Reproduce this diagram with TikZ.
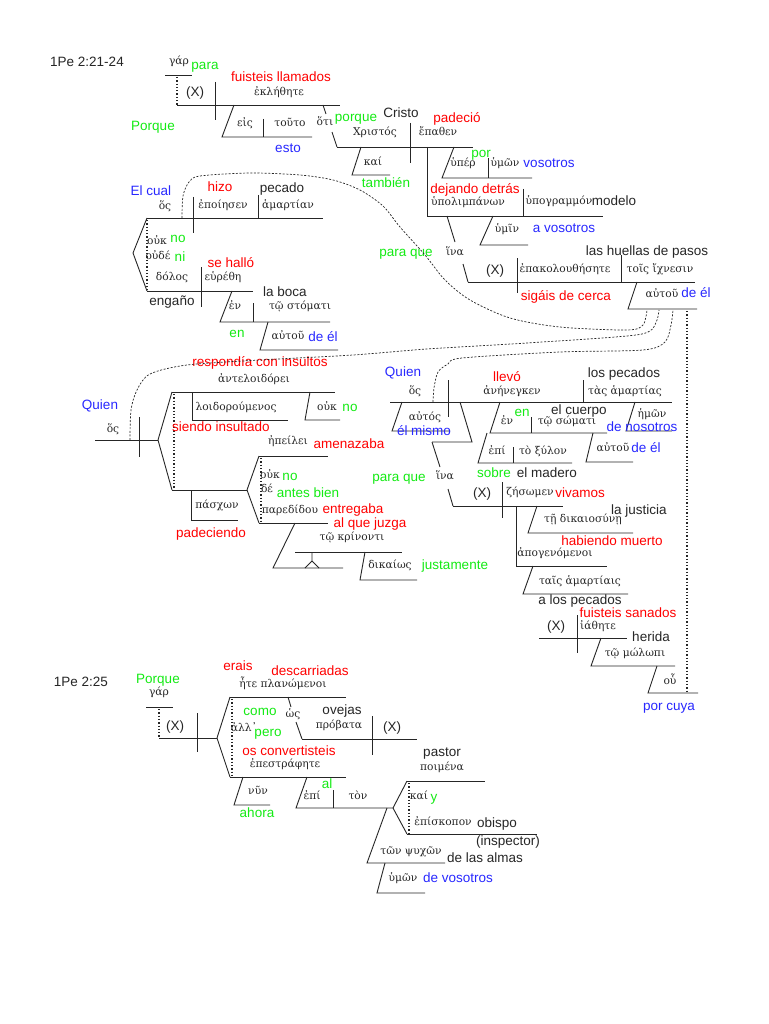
\documentclass[tikz,border=0pt]{standalone}
\usepackage{fontspec}
\setmainfont{Liberation Sans}
\newfontfamily\gkf{DejaVu Serif}
\definecolor{cr}{RGB}{255,0,0}
\definecolor{cg}{RGB}{20,235,20}
\definecolor{cb}{RGB}{40,40,255}
\newcounter{tnc}
\newcommand{\tx}[4]{\stepcounter{tnc}\node[#1] (t\arabic{tnc}) at (#2,#3) {#4};}
\begin{document}
\begin{tikzpicture}[x=1pt,y=-1pt,
  ln/.style={line width=0.9pt, black!85},
  dt/.style={line width=1.3pt, dotted, black!85},
  ds/.style={line width=0.7pt, dash pattern=on 2pt off 1.6pt, black!85},
  sp/.style={inner sep=0pt, anchor=center, font=\fontsize{13.5}{15}\selectfont, text height=9.7pt, text depth=0pt, text=black!85},
  rd/.style={sp, text=cr}, gn/.style={sp, text=cg}, bl/.style={sp, text=cb},
  gk/.style={inner sep=0pt, anchor=center, font=\gkf\fontsize{10.7}{12}\selectfont, text height=5.5pt, text depth=0pt, text=black!85}]
\useasboundingbox (0,0) rectangle (768,1024);
\fill[white] (0,0) rectangle (768,1024);

% ================= Section 1 =================
\tx{sp}{87}{62}{1Pe 2:21-24}
\tx{gk}{179}{62}{γάρ}
\tx{gn}{205}{65}{para}
\draw[ln] (165,75)--(192,75);
\draw[dt] (177,77)--(177,105);
\draw[ln] (177,105)--(340,105);
\draw[ln] (215,82)--(215,120);
\tx{sp}{195}{92}{(X)}
\tx{rd}{281}{77}{fuisteis llamados}
\tx{gk}{279}{93}{ἐκλήθητε}
\tx{gn}{153}{126}{Porque}
\draw[ln] (234,105)--(222,137)--(312,137);
\draw[ln] (263,119)--(263,137);
\tx{gk}{245}{124}{εἰς}
\tx{gk}{290}{124}{τοῦτο}
\tx{bl}{288}{148}{esto}
\draw[ln] (323,105)--(326,114);
\draw[ln] (332,132)--(337,147);
\tx{gk}{325}{123}{ὅτι}
\tx{gn}{356}{117}{porque}
\tx{sp}{401}{113}{Cristo}
\tx{gk}{375}{133}{Χριστός}
\draw[ln] (410,123)--(410,163);
\tx{rd}{457}{118}{padeció}
\tx{gk}{438}{133}{ἔπαθεν}
\draw[ln] (337,147)--(473,147);
\draw[ln] (361,147)--(352,175)--(390,175);
\tx{gk}{373}{163}{καί}
\tx{gn}{386}{183}{también}
\draw[ln] (454,147)--(442,178)--(532,178);
\draw[ln] (488,158)--(488,178);
\tx{gk}{463}{164}{ὑπέρ}
\tx{gk}{505}{164}{ὑμῶν}
\tx{bl}{549}{163}{vosotros}
\tx{gn}{481}{153}{por}
\draw[ln] (427,147)--(427,216)--(603,216);
\draw[ln] (523,189)--(523,216);
\tx{rd}{475}{189}{dejando detrás}
\tx{gk}{468}{203}{ὑπολιμπάνων}
\tx{gk}{559}{202}{ὑπογραμμόν}
\tx{sp}{614}{201}{modelo}
\draw[ln] (493,216)--(480,245)--(528,245);
\tx{gk}{507}{230}{ὑμῖν}
\tx{bl}{564}{228}{a vosotros}
\draw[ln] (447,216)--(455,242);
\draw[ln] (463,264)--(468,282);
\tx{gk}{455}{253}{ἵνα}
\tx{gn}{406}{252}{para que}
\draw[ln] (468,282)--(695,282);
\tx{sp}{495}{270}{(X)}
\draw[ln] (517,258)--(517,293);
\tx{gk}{565}{270}{ἐπακολουθήσητε}
\draw[ln] (621,255)--(621,282);
\tx{gk}{660}{270}{τοῖς ἴχνεσιν}
\tx{sp}{647}{251}{las huellas de pasos}
\tx{rd}{566}{296}{sigáis de cerca}
\draw[ln] (637,282)--(628,309)--(697,309);
\tx{gk}{662}{295}{αὐτοῦ}
\tx{bl}{696}{293}{de él}

% ----- El cual -----
\tx{bl}{151}{191}{El cual}
\tx{gk}{165}{207}{ὅς}
\draw[ln] (147,218)--(323,218);
\draw[ln] (193,197)--(193,233);
\draw[ln] (258,195)--(258,218);
\tx{rd}{220}{187}{hizo}
\tx{gk}{223}{206}{ἐποίησεν}
\tx{sp}{282}{188}{pecado}
\tx{gk}{288}{206}{ἁμαρτίαν}
\draw[ln] (147,218)--(133,253)--(147,291);
\draw[dt] (147,220)--(147,290);
\draw[ln] (147,291)--(253,291);
\tx{gk}{157}{242}{οὐκ}
\tx{gn}{178}{238}{no}
\tx{gk}{158}{257}{οὐδέ}
\tx{gn}{180}{257}{ni}
\tx{rd}{231}{263}{se halló}
\tx{gk}{172}{278}{δόλος}
\tx{gk}{223}{278}{εὑρέθη}
\draw[ln] (201,267)--(201,307);
\tx{sp}{172}{301}{engaño}
\draw[ln] (232,291)--(220,322)--(330,322);
\draw[ln] (253,303)--(253,322);
\tx{gk}{235}{307}{ἐν}
\tx{gk}{300}{307}{τῷ στόματι}
\tx{sp}{285}{292}{la boca}
\tx{gn}{237}{333}{en}
\draw[ln] (268,322)--(260,350)--(338,350);
\tx{gk}{288}{337}{αὐτοῦ}
\tx{bl}{323}{337}{de él}

% ================= Section 2 (Quien) =================
\tx{bl}{100}{405}{Quien}
\tx{gk}{113}{430}{ὅς}
\draw[ln] (95,440)--(158,440);
\draw[ln] (139,417)--(139,457);
\draw[ln] (158,440)--(172,392);
\draw[ln] (158,440)--(172,490);
\draw[dt] (174,394)--(174,489);
\draw[ln] (172,392)--(335,392);
\draw[ln] (172,490)--(247,490);
\tx{rd}{260}{362}{respondía con insultos}
\tx{gk}{254}{380}{ἀντελοιδόρει}
\draw[ln] (192,392)--(192,420)--(288,420);
\tx{gk}{236}{408}{λοιδορούμενος}
\tx{rd}{221}{427}{siendo insultado}
\draw[ln] (310,392)--(305,420)--(340,420);
\tx{gk}{327}{408}{οὐκ}
\tx{gn}{350}{407}{no}
\draw[ln] (191,490)--(191,520)--(238,520);
\tx{gk}{217}{506}{πάσχων}
\tx{rd}{211}{533}{padeciendo}
\draw[ln] (247,490)--(259,456);
\draw[ln] (247,490)--(259,523);
\draw[dt] (261,458)--(261,522);
\draw[ln] (259,456)--(328,456);
\draw[ln] (259,523)--(328,523);
\tx{gk}{288}{442}{ἠπείλει}
\tx{rd}{349}{444}{amenazaba}
\tx{gk}{270}{476}{οὐκ}
\tx{gn}{290}{476}{no}
\tx{gk}{267}{490}{δέ}
\tx{gn}{308}{493}{antes bien}
\tx{gk}{290}{511}{παρεδίδου}
\tx{rd}{353}{509}{entregaba}
\tx{rd}{370}{523}{al que juzga}
\tx{gk}{352}{538}{τῷ κρίνοντι}
\draw[ln] (295,523)--(273,568)--(343,568);
\draw[ln] (295,552)--(402,552);
\draw[ln] (312,552)--(312,561)--(305,568);
\draw[ln] (312,561)--(319,568);
\draw[ln] (365,552)--(360,580)--(417,580);
\tx{gk}{390}{566}{δικαίως}
\tx{gn}{455}{565}{justamente}

% ================= Section 3 (Quien) =================
\tx{bl}{403}{372}{Quien}
\tx{gk}{415}{392}{ὅς}
\draw[ln] (390,402)--(672,402);
\draw[ln] (448,380)--(448,417);
\draw[ln] (402,402)--(392,431)--(450,431);
\tx{gk}{425}{418}{αὐτός}
\tx{bl}{424}{431}{él mismo}
\draw[ln] (460,402)--(472,442)--(432,442);
\draw[ln] (432,442)--(440,467);
\draw[ln] (448,489)--(453,506);
\tx{gk}{445}{477}{ἵνα}
\tx{gn}{399}{477}{para que}
\tx{rd}{507}{377}{llevó}
\tx{gk}{512}{392}{ἀνήνεγκεν}
\draw[ln] (583,380)--(583,402);
\tx{sp}{624}{373}{los pecados}
\tx{gk}{625}{392}{τὰς ἁμαρτίας}
\draw[ln] (635,402)--(626,431)--(672,431);
\tx{gk}{652}{415}{ἡμῶν}
\tx{bl}{642}{427}{de nosotros}
\draw[ln] (500,402)--(490,433)--(607,433);
\draw[ln] (531,417)--(531,433);
\tx{gk}{507}{422}{ἐν}
\tx{gn}{522}{412}{en}
\tx{gk}{567}{422}{τῷ σώματι}
\tx{sp}{579}{410}{el cuerpo}
\draw[ln] (593,433)--(586,462)--(633,462);
\tx{gk}{613}{449}{αὐτοῦ}
\tx{bl}{646}{448}{de él}
\draw[ln] (487,433)--(478,463)--(572,463);
\draw[ln] (513,447)--(513,463);
\tx{gk}{497}{452}{ἐπί}
\tx{gk}{543}{452}{τὸ ξύλον}
\tx{gn}{494}{473}{sobre}
\tx{sp}{547}{473}{el madero}
\draw[ln] (453,506)--(563,506);
\tx{sp}{482}{493}{(X)}
\draw[ln] (502,482)--(502,518);
\tx{gk}{530}{493}{ζήσωμεν}
\tx{rd}{580}{493}{vivamos}
\draw[ln] (537,506)--(528,533)--(633,533);
\tx{gk}{583}{520}{τῇ δικαιοσύνῃ}
\tx{sp}{639}{510}{la justicia}
\draw[ln] (516,506)--(516,566)--(607,566);
\tx{gk}{555}{554}{ἀπογενόμενοι}
\tx{rd}{612}{541}{habiendo muerto}
\draw[ln] (533,566)--(523,594)--(628,594);
\tx{gk}{580}{582}{ταῖς ἁμαρτίαις}
\tx{sp}{580}{600}{a los pecados}
\tx{rd}{628}{613}{fuisteis sanados}
\tx{sp}{556}{626}{(X)}
\draw[ln] (577,615)--(577,653);
\tx{gk}{598}{627}{ἰάθητε}
\draw[ln] (539,638)--(627,638);
\tx{sp}{651}{637}{herida}
\draw[ln] (601,638)--(591,666)--(675,666);
\tx{gk}{635}{654}{τῷ μώλωπι}
\draw[ln] (657,666)--(648,693)--(698,693);
\tx{gk}{670}{682}{οὗ}
\tx{bl}{669}{706}{por cuya}
\draw[dt] (687,311)--(687,692);

% ----- dashed connectors to αὐτοῦ -----
\draw[ds] plot[smooth] coordinates {(182,218) (183,196) (189,182) (200,176) (250,173) (300,175) (333,180) (360,190) (383,206) (400,227) (425,255) (445,280) (470,300) (510,318) (560,327) (627,330) (643,325) (647,310)};
\draw[ds] plot[smooth] coordinates {(130,440) (131,410) (137,390) (150,374) (187,365) (260,360) (353,355) (427,349) (527,343) (627,336) (650,331) (657,320) (659,310)};
\draw[ds] plot[smooth] coordinates {(433,402) (434,388) (438,372) (448,364) (462,358) (560,352) (643,350) (665,342) (671,325) (673,310)};

% ================= Section 4 =================
\tx{sp}{81}{682}{1Pe 2:25}
\tx{gn}{158}{679}{Porque}
\tx{gk}{159}{693}{γάρ}
\draw[ln] (146,707)--(173,707);
\draw[dt] (159,709)--(159,738);
\draw[ln] (159,738)--(217,738);
\tx{sp}{175}{726}{(X)}
\draw[ln] (197,713)--(197,752);
\draw[ln] (217,738)--(230,697);
\draw[ln] (217,738)--(230,777);
\draw[dt] (232,699)--(232,776);
\draw[ln] (230,697)--(346,697);
\draw[ln] (230,777)--(346,777);
\tx{rd}{238}{666}{erais}
\tx{rd}{310}{671}{descarriadas}
\tx{gk}{283}{685}{ἦτε πλανώμενοι}
\draw[ln] (288,697)--(291,707);
\draw[ln] (296,722)--(302,739);
\tx{gk}{293}{715}{ὡς}
\draw[ln] (302,739)--(417,739);
\draw[ln] (372,716)--(372,755);
\tx{sp}{342}{710}{ovejas}
\tx{gk}{339}{726}{πρόβατα}
\tx{sp}{392}{727}{(X)}
\tx{gn}{260}{711}{como}
\tx{gk}{244}{729}{ἀλλ᾽}
\tx{gn}{268}{732}{pero}
\tx{rd}{289}{751}{os convertisteis}
\tx{gk}{285}{765}{ἐπεστράφητε}
\draw[ln] (243,777)--(234,805)--(270,805);
\tx{gk}{258}{792}{νῦν}
\tx{gn}{257}{813}{ahora}
\draw[ln] (307,777)--(296,808)--(393,808);
\draw[ln] (333,790)--(333,808);
\tx{gk}{312}{797}{ἐπί}
\tx{gn}{327}{784}{al}
\tx{gk}{358}{797}{τὸν}
\draw[ln] (393,808)--(407,781);
\draw[ln] (393,808)--(407,834);
\draw[dt] (409,783)--(409,833);
\draw[ln] (407,781)--(485,781);
\draw[ln] (407,834)--(537,834);
\tx{sp}{442}{752}{pastor}
\tx{gk}{442}{768}{ποιμένα}
\tx{gk}{419}{797}{καί}
\tx{gn}{434}{797}{y}
\tx{gk}{443}{823}{ἐπίσκοπον}
\tx{sp}{497}{823}{obispo}
\tx{sp}{508}{841}{(inspector)}
\draw[ln] (387,808)--(367,863)--(445,863);
\tx{gk}{411}{852}{τῶν ψυχῶν}
\tx{sp}{485}{858}{de las almas}
\draw[ln] (385,863)--(377,893)--(425,893);
\tx{gk}{403}{879}{ὑμῶν}
\tx{bl}{458}{878}{de vosotros}
\end{tikzpicture}
\end{document}
